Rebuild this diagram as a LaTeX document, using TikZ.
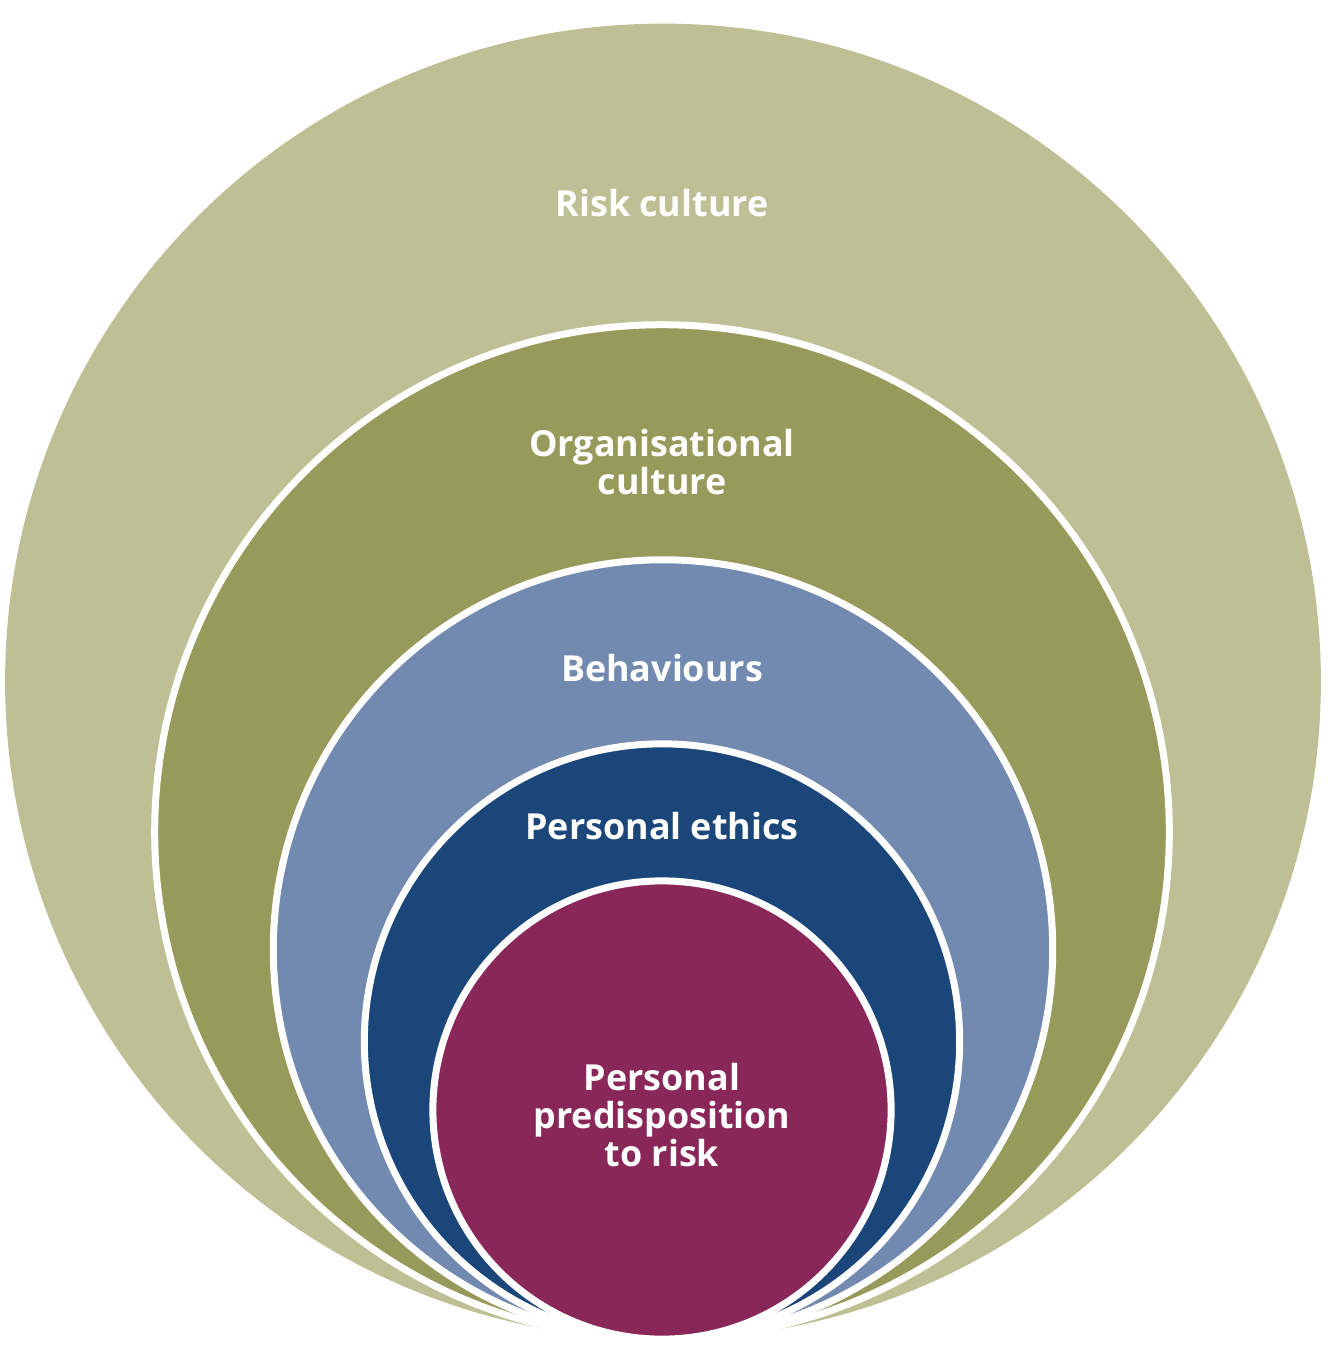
\documentclass[tikz,border=0pt]{standalone}
\usepackage{fontspec}
\setmainfont{Open Sans}
\definecolor{riskc}{HTML}{BCC094}
\definecolor{orgc}{HTML}{969A5A}
\definecolor{behc}{HTML}{7289B0}
\definecolor{ethc}{HTML}{1A4679}
\definecolor{predc}{HTML}{8A2759}
\begin{document}
\begin{tikzpicture}[x=0.01cm,y=-0.01cm,
  ring/.style={circle, inner sep=0pt, outer sep=0pt, draw=white, line width=0.07cm},
  lbl/.style={text=white, font=\bfseries\fontsize{10.2pt}{10.7pt}\selectfont, align=center, inner sep=0pt}]
\useasboundingbox (0,0) rectangle (1334,1348);
\node[ring, draw=none, fill=riskc, minimum size=13.15cm] (c1) at (663,681.5) {};
\node[ring, fill=orgc, minimum size=10.14cm] (c2) at (662,832) {};
\node[ring, fill=behc, minimum size=7.79cm] (c3) at (663,949.5) {};
\node[ring, fill=ethc, minimum size=5.95cm] (c4) at (662,1041.5) {};
\node[ring, fill=predc, minimum size=4.58cm] (c5) at (662,1110) {};
\node[lbl] (t1) at (662,203) {Risk culture};
\node[lbl] (t2) at (662,462) {Organisational\\culture};
\node[lbl] (t3) at (662,668) {Behaviours};
\node[lbl] (t4) at (662,826) {Personal ethics};
\node[lbl] (t5) at (662,1115) {Personal\\predisposition\\to risk};
\end{tikzpicture}
\end{document}
